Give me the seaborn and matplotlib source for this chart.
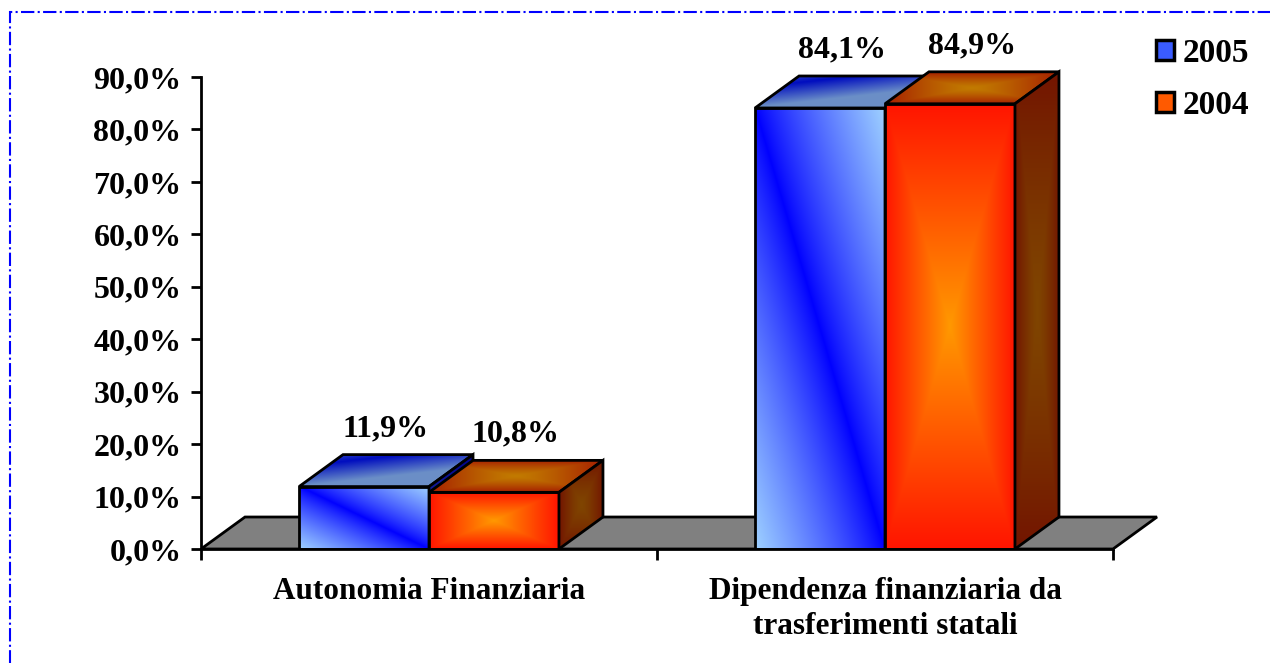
import numpy as np
import pandas as pd
import seaborn as sns
import matplotlib.pyplot as plt
from matplotlib.patches import Polygon, Patch, Rectangle

# -----------------------------
# DATA
# -----------------------------
categorie = ["Autonomia Finanziaria", "Dipendenza finanziaria da\ntrasferimenti statali"]
anni = ["2005", "2004"]
valori_2005 = [11.9, 84.1]
valori_2004 = [10.8, 84.9]
yticks = [0, 10, 20, 30, 40, 50, 60, 70, 80, 90]

df = pd.DataFrame({
    "categoria": categorie * 2,
    "anno": ["2005"] * 2 + ["2004"] * 2,
    "valore": valori_2005 + valori_2004,
})


def pct(v):
    return f"{v:.1f}%".replace(".", ",")


# -----------------------------
# GRADIENTS
# -----------------------------
N = 200
u, v = np.meshgrid(np.linspace(0, 1, N), np.linspace(0, 1, N))


def mix(c1, c2, t):
    c1 = np.array(c1)
    c2 = np.array(c2)
    t = np.clip(t, 0, 1)[..., None]
    return c1 * (1 - t) + c2 * t


box = np.maximum(np.abs(2 * u - 1), np.abs(2 * v - 1))
blue_front = mix((0.0, 0.0, 1.0), (0.62, 0.82, 1.0), np.abs(u - v) ** 0.85)
blue_top = mix((0.0, 0.05, 0.75), (0.42, 0.56, 0.78), np.abs(u * 0.6 + v - 0.35) * 1.6)
blue_side = mix((0.0, 0.0, 0.55), (0.2, 0.3, 0.7), v)
ora_front = mix((1.0, 0.6, 0.0), (1.0, 0.08, 0.0), box ** 1.0)
ora_top = mix((0.76, 0.48, 0.0), (0.65, 0.12, 0.0), box ** 1.3)
ora_side = mix((0.5, 0.27, 0.0), (0.45, 0.08, 0.0), box ** 1.3)

grad = {
    "2005": (blue_front, blue_top, blue_side),
    "2004": (ora_front, ora_top, ora_side),
}

# -----------------------------
# PLOT
# -----------------------------
sns.set_style("white")
plt.rcParams["font.family"] = ["Liberation Serif", "DejaVu Serif"]
plt.rcParams["font.weight"] = "bold"
for k in ["text.color", "axes.labelcolor", "xtick.color", "ytick.color", "axes.edgecolor"]:
    plt.rcParams[k] = "black"

fig = plt.figure(figsize=(12.7, 6.63), dpi=100)
ax = fig.add_axes([201 / 1270, 1 - 549 / 663, 957.6 / 1270, 524.4 / 663])

sns.barplot(data=df, x="categoria", y="valore", hue="anno", hue_order=anni,
            order=categorie, width=0.57, dodge=True, legend=False, ax=ax)

dx, dy = 0.0965, 6.1
LW = 2.0

# floor
floor = Polygon([(-0.5, 0), (1.5, 0), (1.5 + dx, dy), (-0.5 + dx, dy)],
                closed=True, facecolor="#808080", edgecolor="black", lw=LW, zorder=0.5)
ax.add_patch(floor)

for hi, (anno, cont) in enumerate(zip(anni, ax.containers)):
    g_front, g_top, g_side = grad[anno]
    for ci, p in enumerate(cont.patches):
        x0, w, h = p.get_x(), p.get_width(), p.get_height()
        z = 2 + 4 * (ci * 2 + hi)
        # front face
        p.set_facecolor("none")
        p.set_edgecolor("black")
        p.set_linewidth(LW)
        p.set_zorder(z + 0.5)
        im = ax.imshow(g_front, extent=(x0, x0 + w, 0, h), aspect="auto", zorder=z,
                       interpolation="bilinear")
        im.set_clip_path(p)
        # top face
        top = Polygon([(x0, h), (x0 + w, h), (x0 + w + dx, h + dy), (x0 + dx, h + dy)],
                      closed=True, facecolor="none", edgecolor="black", lw=LW, zorder=z + 1.5)
        ax.add_patch(top)
        im = ax.imshow(g_top, extent=(x0, x0 + w + dx, h, h + dy), aspect="auto",
                       zorder=z + 1, interpolation="bilinear")
        im.set_clip_path(top)
        # side face
        side = Polygon([(x0 + w, 0), (x0 + w + dx, dy), (x0 + w + dx, h + dy), (x0 + w, h)],
                       closed=True, facecolor="none", edgecolor="black", lw=LW, zorder=z + 2.5)
        ax.add_patch(side)
        im = ax.imshow(g_side, extent=(x0 + w, x0 + w + dx, 0, h + dy), aspect="auto",
                       zorder=z + 2, interpolation="bilinear")
        im.set_clip_path(side)
        # value label
        ax.text(x0 + w / 2 + dx / 2, h + dy + 2.2, pct(h), ha="center", va="bottom",
                fontsize=23, fontweight="bold", zorder=50)

ax.set_xlim(-0.5, 1.6)
ax.set_ylim(0, 100)

# axes
for s in ["top", "right"]:
    ax.spines[s].set_visible(False)
ax.spines["left"].set_bounds(0, 90)
ax.spines["bottom"].set_bounds(-0.5, 1.5)
ax.spines["left"].set_linewidth(LW)
ax.spines["bottom"].set_linewidth(LW)
ax.spines["left"].set_zorder(60)
ax.spines["bottom"].set_zorder(60)

ax.set_yticks(yticks)
ax.set_yticklabels([pct(t) for t in yticks], fontsize=23, fontweight="bold")
ax.tick_params(axis="y", direction="out", length=7, width=LW, pad=7, left=True)

ax.set_xticks([0, 1])
ax.set_xticklabels(categorie, fontsize=22.5, fontweight="bold", linespacing=1.3)
ax.set_xticks([-0.5, 0.5, 1.5], minor=True)
ax.tick_params(axis="x", which="major", length=0, pad=20)
ax.tick_params(axis="x", which="minor", direction="out", length=8, width=LW, bottom=True)
ax.set_xlabel("")
ax.set_ylabel("")
ax.grid(False)

# legend
handles = [Patch(facecolor="#3a5cff", edgecolor="black", lw=2.5, label="2005"),
           Patch(facecolor="#ff5a00", edgecolor="black", lw=2.5, label="2004")]
fig.legend(handles=handles, loc="upper left", bbox_to_anchor=(1126 / 1270, 1 - 8 / 663),
           frameon=False, prop={"family": "Liberation Serif", "weight": "bold", "size": 24},
           handlelength=0.55, handleheight=0.55, handletextpad=0.25, labelspacing=0.62)

# dash-dot border
fig.patches.append(Rectangle((10 / 1270, -0.1), 1.2, 1 - 12 / 663 + 0.1, transform=fig.transFigure,
                             fill=False, edgecolor="blue", lw=1.5, linestyle="-."))

fig.savefig("out.png", dpi=100)
